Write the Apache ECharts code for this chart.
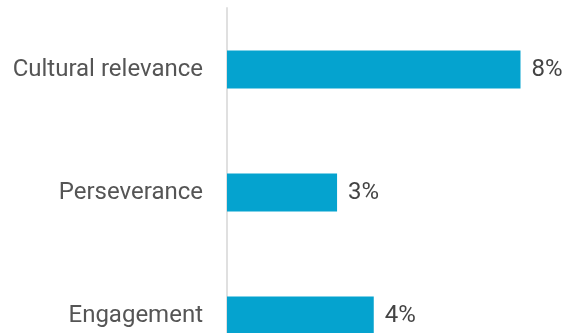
<!DOCTYPE html>
<html><head><meta charset="utf-8">
<script src="https://cdn.jsdelivr.net/npm/echarts@6/dist/echarts.min.js"></script>
<style>html,body{margin:0;padding:0;background:#fff;}#c{width:565px;height:333px;}</style>
</head><body><div id="c"></div>
<script>
const categories = ["Cultural relevance", "Perseverance", "Engagement"];
const values = [8, 3, 4];
const chart = echarts.init(document.getElementById('c'), null, {renderer: 'canvas'});
chart.setOption({
  animation: false,
  grid: {left: 227, width: 293.5, top: 8, height: 369, outerBoundsMode: 'none', containLabel: false},
  xAxis: {type: 'value', min: 0, max: 8, show: false},
  yAxis: {
    type: 'category', data: categories, inverse: true,
    axisLine: {show: true, lineStyle: {color: '#e0e0e0', width: 2}},
    axisTick: {show: false},
    axisLabel: {color: '#555', fontFamily: 'Roboto', fontSize: 24, margin: 24}
  },
  series: [{
    type: 'bar', data: values, barWidth: 38,
    itemStyle: {color: '#05a3cf'},
    label: {show: true, position: 'right', distance: 11, formatter: '{c}%', color: '#444', fontFamily: 'Roboto', fontSize: 24}
  }]
});
</script></body></html>
